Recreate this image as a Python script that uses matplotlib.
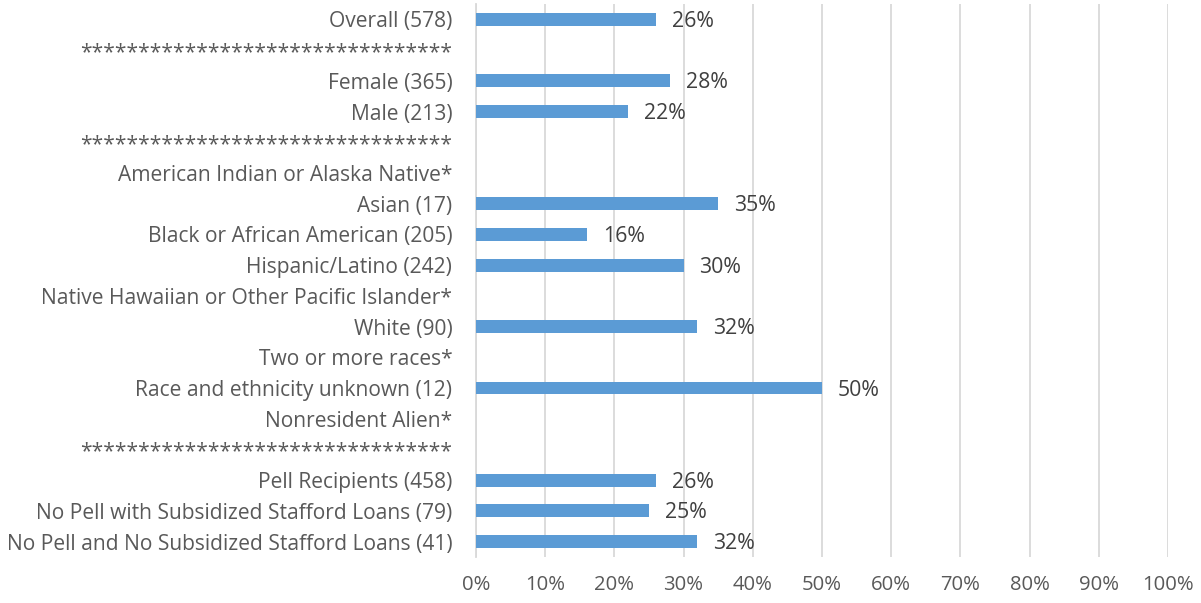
import numpy as np
import matplotlib.pyplot as plt

# -----------------------
# Data
# -----------------------
stars = "*" * 32
labels = [
    "Overall (578)",
    stars,
    "Female (365)",
    "Male (213)",
    stars,
    "American Indian or Alaska Native*",
    "Asian (17)",
    "Black or African American (205)",
    "Hispanic/Latino (242)",
    "Native Hawaiian or Other Pacific Islander*",
    "White (90)",
    "Two or more races*",
    "Race and ethnicity unknown (12)",
    "Nonresident Alien*",
    stars,
    "Pell Recipients (458)",
    "No Pell with Subsidized Stafford Loans (79)",
    "No Pell and No Subsidized Stafford Loans (41)",
]
values = [26, None, 28, 22, None, None, 35, 16, 30, None, 32, None, 50, None, None, 26, 25, 32]
ticks = [0, 10, 20, 30, 40, 50, 60, 70, 80, 90, 100]

# -----------------------
# Plotting
# -----------------------
plt.rcParams['font.family'] = ['Open Sans', 'DejaVu Sans']

fig = plt.figure(figsize=(12.01, 6.03), dpi=100)
ax = fig.add_axes([0.3963, 0.0763, 0.5762, 0.917])

y = np.arange(len(labels))
vals = np.array([np.nan if v is None else v for v in values], dtype=float)
ax.barh(y, np.nan_to_num(vals), height=0.42, color='#5B9BD5', zorder=3)

for yi, v in zip(y, vals):
    if not np.isnan(v):
        ax.annotate(f"{v:.0f}%", (v, yi), xytext=(11.5, -1.5), textcoords='offset points',
                    va='center', ha='left', fontsize=15.3, color='#404040')

ax.set_yticks(y)
ax.set_yticklabels(labels, fontsize=15.1, color='#595959')
ax.set_ylim(len(labels) - 0.5, -0.5)
ax.set_xlim(0, 100)
ax.set_xticks(ticks)
ax.set_xticklabels([f"{t}%" for t in ticks], fontsize=14.6, color='#595959')

ax.grid(axis='x', color='#D9D9D9', linewidth=1.3, zorder=0)
for s in ['top', 'right', 'bottom']:
    ax.spines[s].set_visible(False)
ax.spines['left'].set_color('#D9D9D9')
ax.spines['left'].set_linewidth(1.3)
ax.tick_params(axis='both', length=0)
ax.tick_params(axis='y', pad=17)
ax.tick_params(axis='x', pad=13)

fig.savefig("out.png", dpi=100)
